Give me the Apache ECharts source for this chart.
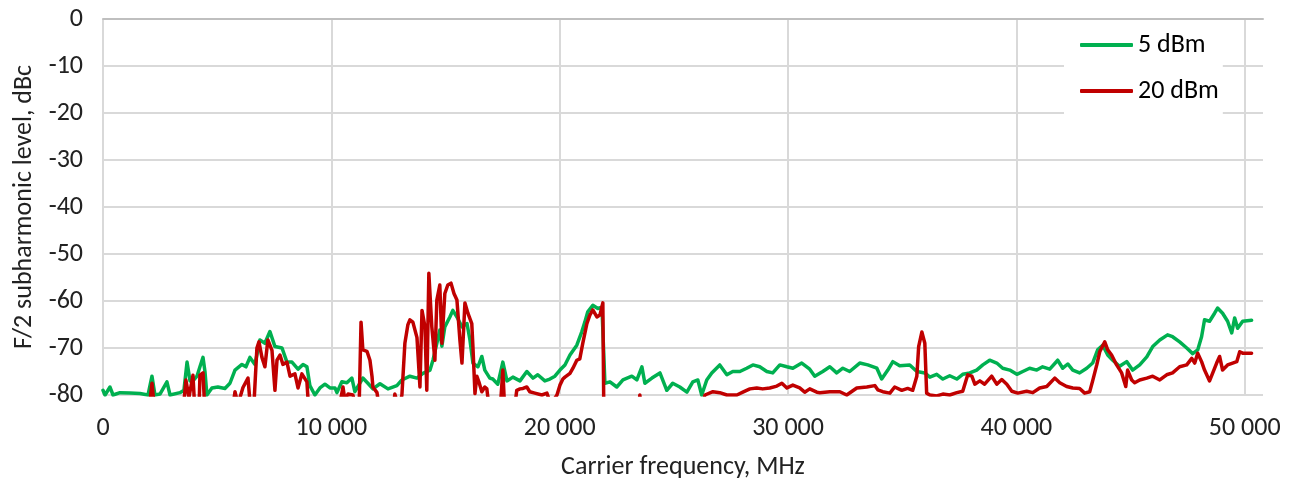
<!DOCTYPE html>
<html>
<head>
<meta charset="utf-8">
<script src="https://cdn.jsdelivr.net/npm/echarts@6/dist/echarts.min.js"></script>
<style>
html,body{margin:0;padding:0;background:#fff;}
#chart{width:1291px;height:488px;}
</style>
</head>
<body>
<div id="chart"></div>
<script>
// Frequencies in MHz and F/2 subharmonic level in dBc (values below -80 are off-scale)
const greenFreq = [0,90,306,440,745,1180,1620,1970,2145,2275,2495,2800,2935,3370,3545,3680,3810,3940,4115,4245,4380,4465,4550,4770,5030,5340,5560,5780,6085,6260,6435,6655,6870,7090,7310,7530,7840,8055,8275,8540,8760,8930,9060,9280,9500,9720,9940,10160,10245,10460,10680,10900,11030,11380,11600,11820,12130,12480,12870,13090,13440,13750,14010,14320,14450,14620,14750,14840,14970,15190,15320,15500,15720,15940,16070,16200,16420,16590,16720,16940,17070,17290,17510,17690,17950,18260,18560,18830,19040,19350,19570,19790,20010,20230,20450,20750,20970,21100,21230,21450,21670,21850,21980,22200,22500,22770,23160,23380,23600,23730,24040,24390,24690,24950,25260,25570,25830,26050,26220,26440,26660,27010,27320,27580,27890,28190,28460,28760,29070,29330,29640,29950,30210,30600,30950,31170,31520,31830,32130,32400,32700,33140,33490,33890,34100,34370,34590,34890,35330,35640,35990,36210,36510,36780,37080,37390,37650,37960,38260,38530,38830,39140,39400,39710,40020,40280,40580,40890,41150,41460,41810,42030,42250,42470,42770,43080,43340,43560,43780,44000,44220,44520,44830,45090,45400,45710,45970,46280,46620,46840,47150,47460,47720,47940,48110,48240,48460,48680,48810,49030,49250,49430,49560,49690,49910,50300];
const greenLevel = [-79,-80,-78.3,-80,-79.5,-79.6,-79.7,-80,-76,-80,-79.8,-77.2,-80,-79.5,-79,-73,-77,-77,-76,-74,-72,-75,-80,-78.5,-78.3,-78.6,-77.5,-74.7,-73.5,-74,-72,-73.5,-68.3,-69,-66.5,-69.7,-70,-73,-73,-74.5,-73.5,-74,-78,-80,-78.5,-77.7,-78.5,-78.5,-79.5,-77.2,-77.4,-76.4,-79.3,-76.4,-77.5,-78.7,-77.6,-78.7,-78,-76.8,-76,-76.4,-75.4,-74.7,-72.6,-69,-66.2,-69.6,-65.5,-63.4,-62,-63.4,-65.5,-64.8,-68.3,-73.2,-74,-71.8,-74.7,-76.4,-76.6,-77.7,-73,-77,-76.2,-77,-75,-76.4,-75.7,-77,-76.6,-76,-74.7,-73.6,-71.5,-69.4,-66.5,-64.5,-62.3,-60.9,-61.6,-61.3,-77.5,-77.2,-78.3,-76.8,-76,-76.8,-74,-77.5,-76.4,-75.3,-79,-77.5,-78.3,-79.4,-77.2,-76.8,-80,-76.8,-75.3,-73.6,-75.7,-75,-75,-74.3,-73.6,-74,-75,-75.3,-73.6,-74,-74.3,-73.2,-74.5,-76,-75,-74,-75.3,-74.3,-75,-73.2,-73.6,-74.3,-76.6,-74.7,-72.9,-73.8,-73.6,-75,-75.3,-76.2,-75.6,-76.6,-75.9,-76.6,-75.6,-75.3,-74.7,-73.6,-72.6,-73.2,-74.3,-74.7,-75.6,-75,-74.3,-74.7,-74,-74.5,-72.6,-74.3,-73.4,-74.7,-75.3,-74.3,-73.2,-70.4,-69.4,-71.5,-72.6,-73.9,-72.9,-74.7,-73.6,-71.9,-69.7,-68.3,-67.2,-67.6,-68.7,-70,-71.2,-70.4,-67.6,-64,-64.3,-62.6,-61.5,-62.6,-64.3,-66.8,-63.6,-65.8,-64.3,-64.1];

const redFreq = [0,1970,2145,2275,3500,3630,3765,3940,4030,4200,4245,4380,4465,5650,5780,5910,6130,6350,6480,6610,6740,6830,6960,7090,7220,7400,7530,7620,7750,7880,8055,8190,8405,8540,8710,8930,9020,10290,10510,10590,10730,10945,11120,11210,11300,11380,11560,11690,11780,11820,12000,12130,12700,12780,12960,13090,13220,13350,13440,13570,13750,13880,13970,14100,14180,14270,14400,14535,14620,14750,14840,14970,15100,15240,15370,15500,15630,15720,15850,15980,16150,16200,16290,16370,16460,16590,16720,16810,16940,17380,17510,17600,17990,18120,18260,18390,18560,18690,18910,19220,19440,19610,19880,20010,20140,20230,20450,20580,20750,20880,21010,21190,21320,21450,21630,21760,21890,21935,23420,23510,23600,26140,26360,26710,27010,27320,27760,28020,28330,28630,28890,29200,29510,29730,29950,30210,30510,30730,30950,31260,31390,31830,32270,32570,33010,33450,33800,33930,34150,34460,34670,34980,35240,35460,35640,35720,35860,35990,36070,36210,36510,36780,37080,37390,37650,37870,38050,38180,38400,38610,38920,39140,39360,39580,39800,40060,40450,40720,41020,41330,41680,41900,42200,42470,42770,42990,43210,43340,43520,43650,43870,44000,44170,44390,44610,44790,44870,45050,45180,45400,45710,45970,46280,46580,46840,47150,47460,47680,47810,47940,48110,48240,48460,48600,48770,48900,49030,49250,49470,49650,49780,49910,50300];
const redLevel = [-85,-85,-77.5,-84,-84,-76.8,-80.5,-75.8,-84,-84,-75.8,-75.3,-84,-84,-79.3,-82,-78.4,-76.4,-84,-82,-70,-68.7,-72,-74,-68.3,-70.5,-79,-72.6,-71.5,-73.5,-73,-76,-75.5,-78.5,-75.5,-77.2,-84,-84,-78.3,-81,-79.8,-80,-84,-84,-64.5,-70.4,-70.7,-72.6,-76,-78.3,-79.5,-84,-84,-79.8,-83,-80,-69,-65.1,-64,-64.5,-67.8,-78.3,-62,-65.5,-79,-54.1,-65.5,-72.6,-59.8,-56.6,-69,-58.4,-56.6,-56.2,-58.4,-59.8,-68.3,-73.2,-60.4,-62.6,-64.8,-69.7,-79.7,-76,-77.2,-79.3,-78.3,-78.7,-84,-84,-74.7,-84,-84,-79,-78.7,-78.6,-78.3,-79.3,-79.6,-80,-79.6,-82,-80,-77.9,-76.6,-76.2,-75.4,-74.3,-72.6,-72.3,-69,-64.8,-63,-61.9,-63.4,-63,-60.4,-85,-85,-80,-85,-85,-80,-79.3,-79.5,-80,-80,-79.4,-78.7,-78.5,-78.7,-78.5,-78.1,-77.5,-78.5,-77.9,-78.5,-79.4,-78.7,-79.4,-79.5,-79.3,-79.3,-80,-78.5,-78.3,-78,-78.9,-79.3,-79.6,-78.3,-79,-78.6,-79,-76,-69.7,-66.6,-69,-79.6,-80,-80.2,-79.8,-80,-79.5,-79.2,-75.7,-76,-77.7,-77,-77.7,-76,-77.7,-76.7,-77.7,-79.2,-79.6,-79.2,-79.5,-78.5,-78.2,-76.4,-77.4,-78.2,-78.5,-78.6,-79.6,-79.3,-77,-73.6,-70.8,-68.7,-70.4,-71.5,-73.6,-75.3,-78.2,-74.7,-76.8,-77.4,-76.8,-76.4,-76,-76.8,-75.7,-75.3,-74,-73.6,-72.2,-73.2,-71.1,-72.9,-74.7,-77,-75.3,-73.2,-71.8,-74.7,-73.6,-73.2,-72.9,-70.8,-71.1,-71.1];

const seriesNames = ['5 dBm', '20 dBm'];
const xTickValues = [0, 10000, 20000, 30000, 40000, 50000];
const yTickValues = [0, -10, -20, -30, -40, -50, -60, -70, -80];

const FONT = 'Carlito, Calibri, Lato, sans-serif';
const FS = 26;
const pair = (xs, ys) => xs.map((x, i) => [x, ys[i]]);
const fmtThousands = v => String(v).replace(/\B(?=(\d{3})+(?!\d))/g, ' ');

const chart = echarts.init(document.getElementById('chart'), null, {renderer: 'canvas'});
chart.setOption({
  animation: false,
  backgroundColor: '#ffffff',
  grid: {left: 103, right: 28, top: 19, bottom: 93, containLabel: false},
  legend: {
    orient: 'vertical',
    left: 1064, top: 20,
    padding: [12, 4, 12, 16],
    backgroundColor: '#ffffff',
    itemWidth: 53, itemHeight: 4, itemGap: 20,
    icon: 'roundRect',
    textStyle: {fontFamily: FONT, fontSize: FS, color: '#000'},
    data: seriesNames
  },
  xAxis: {
    type: 'value', min: 0, max: 50800, interval: 10000,
    name: 'Carrier frequency, MHz', nameLocation: 'middle', nameGap: 59,
    nameTextStyle: {fontFamily: FONT, fontSize: FS, color: '#222'},
    axisLine: {show: true, lineStyle: {color: '#BFBFBF', width: 2}},
    axisTick: {show: false},
    axisLabel: {
      margin: 20, fontFamily: FONT, fontSize: FS, color: '#222',
      showMaxLabel: false,
      formatter: v => xTickValues.indexOf(v) >= 0 ? fmtThousands(v) : ''
    },
    splitLine: {show: true, showMaxLine: false, lineStyle: {color: '#D9D9D9', width: 2}}
  },
  yAxis: {
    type: 'value', min: -80, max: 0, interval: 10,
    name: 'F/2 subharmonic level, dBc', nameLocation: 'middle', nameGap: 65,
    nameTextStyle: {fontFamily: FONT, fontSize: FS, color: '#222'},
    axisLine: {show: false},
    axisTick: {show: false},
    axisLabel: {
      margin: 20, fontFamily: FONT, fontSize: FS, color: '#222',
      formatter: v => yTickValues.indexOf(v) >= 0 ? String(v) : ''
    },
    splitLine: {show: true, lineStyle: {color: '#D9D9D9', width: 2}}
  },
  series: [
    {
      name: seriesNames[0], type: 'line', data: pair(greenFreq, greenLevel),
      showSymbol: false, symbol: 'none', clip: true,
      lineStyle: {color: '#00B050', width: 3.5, cap: 'round', join: 'round'},
      itemStyle: {color: '#00B050'}
    },
    {
      name: seriesNames[1], type: 'line', data: pair(redFreq, redLevel),
      showSymbol: false, symbol: 'none', clip: true,
      lineStyle: {color: '#C00000', width: 3.5, cap: 'round', join: 'round'},
      itemStyle: {color: '#C00000'}
    }
  ]
});
</script>
</body>
</html>
